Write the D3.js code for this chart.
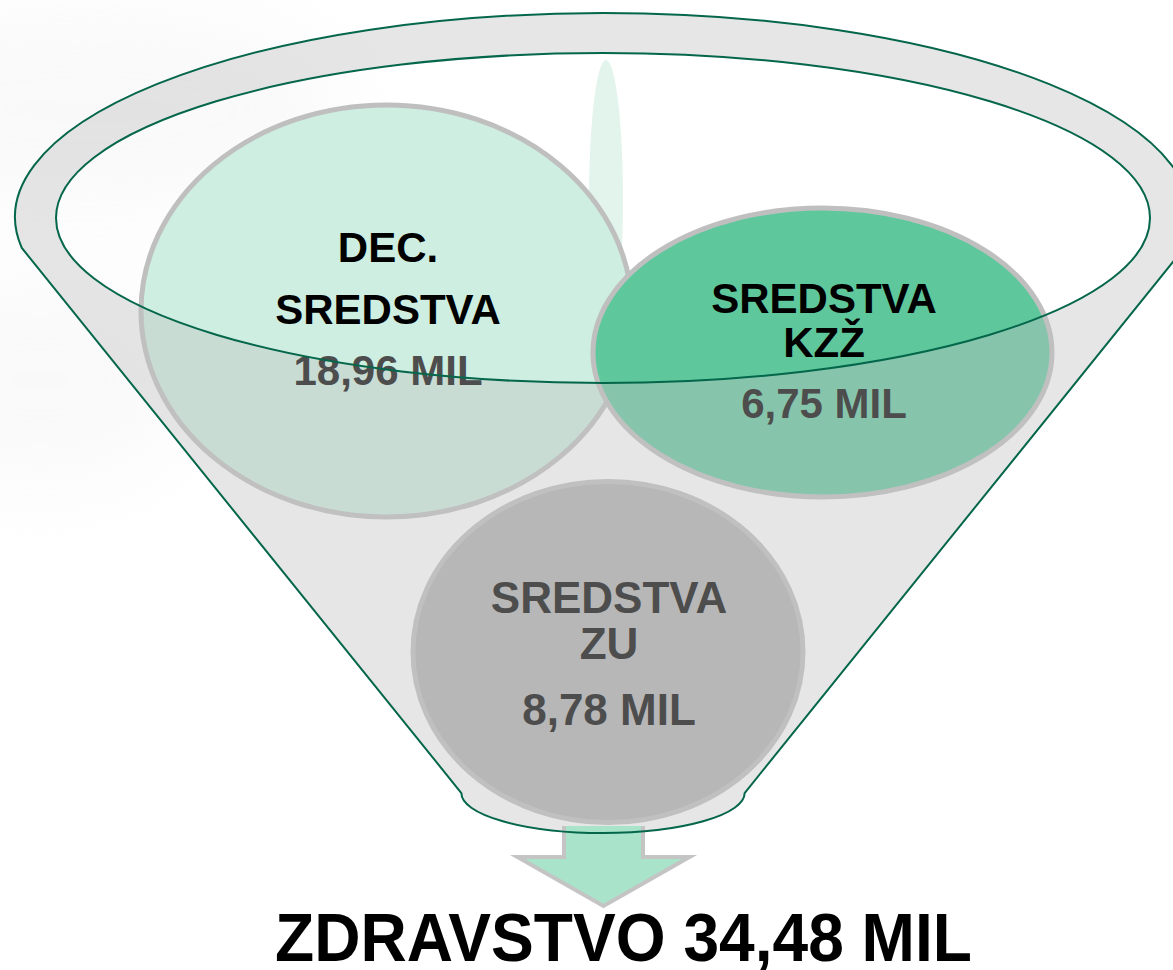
<!DOCTYPE html>
<html>
<head>
<meta charset="utf-8">
<script src="https://cdn.jsdelivr.net/npm/d3@7.9.0/dist/d3.min.js"></script>
<style>
  html, body { margin: 0; padding: 0; background: #fff; }
  svg { display: block; }
  text { font-family: "Liberation Sans", Arial, sans-serif; font-weight: bold; }
</style>
</head>
<body>
<div id="chart"></div>
<script>
// data
const sourceLabels = [["DEC.", "SREDSTVA"], ["SREDSTVA", "KZŽ"], ["SREDSTVA", "ZU"]];
const sourceValues = [18.96, 6.75, 8.78];
const totalLabel = "ZDRAVSTVO";
const totalValue = 34.48;
const unit = "MIL";

// layout of the funnel picture
const width = 1173, height = 970;
const cx = 603;
const bubbles = [
  { x: 386.5, y: 311, rx: 245.5, ry: 206, fill: "#cdeee0", labelColor: "#000", lines: [262, 324], valueY: 385, tx: 388, size: 42 },
  { x: 822.5, y: 352.5, rx: 229.5, ry: 144.5, fill: "#5ec89c", labelColor: "#000", lines: [313, 357], valueY: 418, tx: 824, size: 42 },
  { x: 608, y: 652, rx: 195, ry: 170.5, fill: "#b0b0b0", labelColor: "#4d4d4d", lines: [613, 659], valueY: 725, tx: 609, size: 44 }
];

const fmt = d3.formatLocale({ decimal: ",", thousands: ".", grouping: [3], currency: ["", ""] }).format(".2f");

const svg = d3.select("#chart").append("svg")
  .attr("width", width)
  .attr("height", height);

const defs = svg.append("defs");
defs.append("filter").attr("id", "blur")
  .attr("x", "-50%").attr("y", "-50%").attr("width", "200%").attr("height", "200%")
  .append("feGaussianBlur").attr("stdDeviation", 40);

svg.append("rect").attr("width", width).attr("height", height).attr("fill", "#fff");

// faint background smudges
svg.append("ellipse")
  .attr("cx", 90).attr("cy", 110).attr("rx", 260).attr("ry", 110)
  .attr("fill", "#f0f0f0").attr("opacity", 0.35).attr("filter", "url(#blur)");
svg.append("ellipse")
  .attr("cx", 40).attr("cy", 380).attr("rx", 160).attr("ry", 110)
  .attr("fill", "#f0f0f0").attr("opacity", 0.35).attr("filter", "url(#blur)");

// falling drop behind bubbles
svg.append("ellipse")
  .attr("cx", 606).attr("cy", 200).attr("rx", 17).attr("ry", 140)
  .attr("fill", "#e2f4ec");

// bubbles
svg.selectAll("ellipse.bubble")
  .data(bubbles)
  .join("ellipse")
  .attr("class", "bubble")
  .attr("cx", d => d.x)
  .attr("cy", d => d.y)
  .attr("rx", d => d.rx)
  .attr("ry", d => d.ry)
  .attr("fill", d => d.fill)
  .attr("stroke", "#bfbfbf")
  .attr("stroke-width", 5);

// funnel geometry
const outer = { cx: cx, cy: 217, rx: 588, ry: 204 };
const inner = { cx: cx, cy: 218, rx: 547, ry: 165 };
const cornerY = 248;
const cornerDx = outer.rx * Math.sqrt(1 - Math.pow((cornerY - outer.cy) / outer.ry, 2));
const slope = 1.24;
const bottomY = 793;
const bottomDx = cornerDx - (bottomY - cornerY) / slope;
const bottomRy = 40;

const outerStr =
  `M${cx - cornerDx},${cornerY}` +
  `A${outer.rx},${outer.ry} 0 1 1 ${cx + cornerDx},${cornerY}` +
  `L${cx + bottomDx},${bottomY}` +
  `A${bottomDx},${bottomRy} 0 0 1 ${cx - bottomDx},${bottomY}Z`;
const innerStr =
  `M${inner.cx - inner.rx},${inner.cy}` +
  `A${inner.rx},${inner.ry} 0 1 0 ${inner.cx + inner.rx},${inner.cy}` +
  `A${inner.rx},${inner.ry} 0 1 0 ${inner.cx - inner.rx},${inner.cy}Z`;

svg.append("path")
  .attr("d", outerStr + innerStr)
  .attr("fill", "#c1c1c1")
  .attr("fill-opacity", 0.404)
  .attr("fill-rule", "evenodd");

// arrow
const ax = cx + 0.5;
const arrowPts = [
  [ax - 39.5, 826], [ax - 39.5, 857], [ax - 86, 857], [ax, 906],
  [ax + 86, 857], [ax + 39.5, 857], [ax + 39.5, 826]
];
svg.append("path")
  .attr("d", d3.line()(arrowPts))
  .attr("fill", "#a9e3ca")
  .attr("stroke", "#c4c4c4")
  .attr("stroke-width", 4)
  .attr("stroke-linejoin", "miter");

// bubble texts
const g = svg.selectAll("g.label")
  .data(bubbles)
  .join("g")
  .attr("class", "label");

g.each(function (d, i) {
  const sel = d3.select(this);
  sourceLabels[i].forEach((line, j) => {
    sel.append("text")
      .attr("x", d.tx)
      .attr("y", d.lines[j])
      .attr("text-anchor", "middle")
      .attr("font-size", d.size)
      .attr("fill", d.labelColor)
      .text(line);
  });
  sel.append("text")
    .attr("x", d.tx)
    .attr("y", d.valueY)
    .attr("text-anchor", "middle")
    .attr("font-size", d.size)
    .attr("fill", "#4d4d4d")
    .text(`${fmt(sourceValues[i])} ${unit}`);
});

// funnel outlines
svg.append("path")
  .attr("d", outerStr)
  .attr("fill", "none")
  .attr("stroke", "#04664a")
  .attr("stroke-width", 2);
svg.append("path")
  .attr("d", innerStr)
  .attr("fill", "none")
  .attr("stroke", "#04664a")
  .attr("stroke-width", 2);

// total
svg.append("text")
  .attr("x", 623.5)
  .attr("y", 961)
  .attr("text-anchor", "middle")
  .attr("font-size", 68)
  .attr("textLength", 697)
  .attr("lengthAdjust", "spacingAndGlyphs")
  .attr("fill", "#000")
  .text(`${totalLabel} ${fmt(totalValue)} ${unit}`);
</script>
</body>
</html>
